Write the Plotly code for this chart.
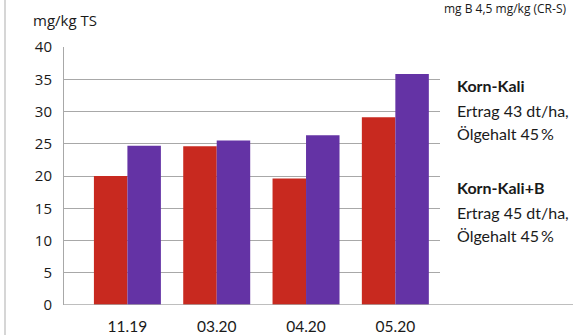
import plotly.graph_objects as go

categories = ["11.19", "03.20", "04.20", "05.20"]
korn_kali = [20.0, 24.6, 19.6, 29.1]
korn_kali_b = [24.7, 25.5, 26.3, 35.8]
y_ticks = [0, 5, 10, 15, 20, 25, 30, 35, 40]

RED = "#c8291f"
PURPLE = "#6433a5"
GRID = "#a8a8a8"
FONT = "Lato"
TICKFONT = "Open Sans"
TXT = "#1a1a1a"

W, H = 573, 335
L, R, T, B = 64, 133, 47, 30
pw = W - L - R

fig = go.Figure()
fig.add_trace(go.Bar(x=categories, y=korn_kali, marker=dict(color=RED, line=dict(width=0)), name="Korn-Kali"))
fig.add_trace(go.Bar(x=categories, y=korn_kali_b, marker=dict(color=PURPLE, line=dict(width=0)), name="Korn-Kali+B"))

fig.update_layout(
    width=W, height=H,
    margin=dict(l=L, r=R, t=T, b=B, pad=0, autoexpand=False),
    paper_bgcolor="white", plot_bgcolor="white",
    barmode="group", bargap=0.25, bargroupgap=0,
    showlegend=False,
    font=dict(family=FONT, size=14, color=TXT),
    xaxis=dict(
        type="category", range=[-0.71, 3.5], showgrid=False, showline=False,
        zeroline=False, ticks="", tickfont=dict(size=15.5, family=FONT, color=TXT),
        ticklabelstandoff=10, automargin=False,
    ),
    yaxis=dict(
        range=[0, 40], tickvals=y_ticks, showgrid=True, gridcolor=GRID, gridwidth=1,
        showline=True, linecolor=GRID, linewidth=1, zeroline=False, ticks="",
        tickfont=dict(size=15, family=TICKFONT, color=TXT), ticklabelstandoff=8,
        automargin=False,
    ),
)

# baseline extending to the right edge
fig.add_shape(type="line", xref="paper", yref="y", x0=0, x1=(W - L) / pw, y0=0, y1=0,
              line=dict(color=GRID, width=1.5))
# left border of the panel
fig.add_shape(type="line", xref="paper", yref="paper", x0=(5 - L) / pw, x1=(5 - L) / pw,
              y0=-B / (H - T - B), y1=(H - T) / (H - T - B) + 0.1,
              line=dict(color="#d6d6d6", width=2))

def px_x(x):
    return (x - L) / pw

def px_y(y):
    return (H - B - y) / (H - T - B)

fig.add_annotation(text="mg/kg TS", xref="paper", yref="paper", x=px_x(31), y=px_y(20),
                   xanchor="left", yanchor="middle", showarrow=False,
                   font=dict(size=15, family=TICKFONT, color=TXT))
fig.add_annotation(text="mg B 4,5 mg/kg (CR-S)", xref="paper", yref="paper", x=px_x(568), y=px_y(9),
                   xanchor="right", yanchor="middle", showarrow=False,
                   font=dict(size=12, family=TICKFONT, color=TXT))

right_lines = [
    ("<b>Korn-Kali</b>", 85),
    ("Ertrag 43 dt/ha,", 110),
    ("Ölgehalt 45\u2009%", 133),
    ("<b>Korn-Kali+B</b>", 187),
    ("Ertrag 45 dt/ha,", 212),
    ("Ölgehalt 45\u2009%", 235),
]
for txt, yy in right_lines:
    fig.add_annotation(text=txt, xref="paper", yref="paper", x=px_x(455), y=px_y(yy),
                       xanchor="left", yanchor="middle", showarrow=False,
                       font=dict(size=16, family=FONT, color=TXT))

fig.write_html("out.html")
